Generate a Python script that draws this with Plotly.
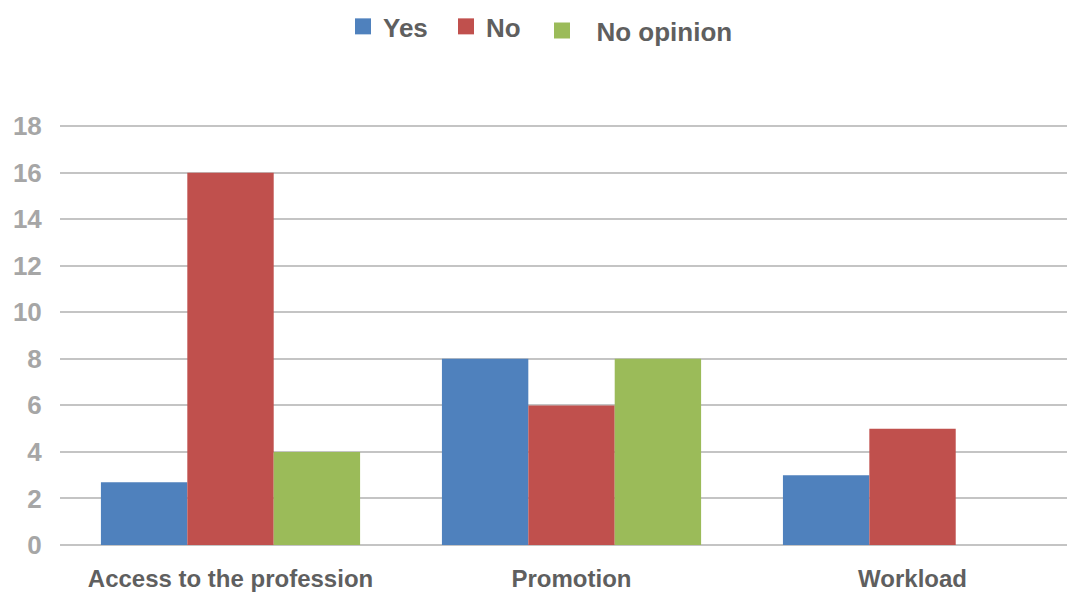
import plotly.graph_objects as go

categories = ["Access to the profession", "Promotion", "Workload"]
series_names = ["Yes", "No", "No opinion"]
yes_values = [2.7, 8, 3]
no_values = [16, 6, 5]
no_opinion_values = [4, 8, 0]
y_tick_values = [0, 2, 4, 6, 8, 10, 12, 14, 16, 18]

colors = ["#4f81bd", "#c0504d", "#9bbb59"]
series_values = [yes_values, no_values, no_opinion_values]
legend_ids = ["legend", "legend2", "legend3"]
legend_labels = ["Yes", "No", "\u00a0\u00a0No opinion"]
legend_x_px = [343, 446, 542]
legend_y = [0.995, 0.995, 0.988]

W, H = 1067, 592
fig = go.Figure()
for name, lab, vals, col, lid in zip(series_names, legend_labels, series_values, colors, legend_ids):
    fig.add_trace(go.Bar(x=categories, y=vals, name=name, marker=dict(color=col, line=dict(width=0)),
                         showlegend=False, legendgroup=name))
    fig.add_trace(go.Scatter(x=[None], y=[None], mode="markers", name=lab, legendgroup=name, legend=lid,
                             marker=dict(symbol="square", size=20, color=col)))

legend_font = dict(size=26, color="#5f5f5f", family="Liberation Sans, Arial, sans-serif", weight="bold")
legend_layouts = {}
for lid, xp, yv in zip(legend_ids, legend_x_px, legend_y):
    legend_layouts[lid] = dict(orientation="h", xref="container", yref="container", x=xp / W, xanchor="left",
                               y=yv, yanchor="top", itemsizing="trace", font=legend_font,
                               bgcolor="rgba(0,0,0,0)")

fig.update_layout(
    width=W, height=H,
    margin=dict(l=60, r=0, t=125, b=44),
    plot_bgcolor="white", paper_bgcolor="white",
    barmode="group", bargap=0.24, bargroupgap=0,
    font=dict(family="Liberation Sans, Arial, sans-serif"),
    xaxis=dict(range=[-0.5, 2.453], showgrid=False, showline=False, zeroline=False,
               tickfont=dict(size=24, color="#5f5f5f", weight="bold"), ticks="outside", ticklen=12,
               tickcolor="rgba(0,0,0,0)"),
    yaxis=dict(range=[0, 18.05], tickvals=y_tick_values, showgrid=True, gridcolor="#c4c4c4", gridwidth=1.5,
               zeroline=True, zerolinecolor="#c4c4c4", zerolinewidth=1.5,
               tickfont=dict(size=26, color="#a6a6a6", weight="bold"), ticks="outside", ticklen=12,
               tickcolor="rgba(0,0,0,0)"),
    **legend_layouts,
)

fig.write_html("out.html")
